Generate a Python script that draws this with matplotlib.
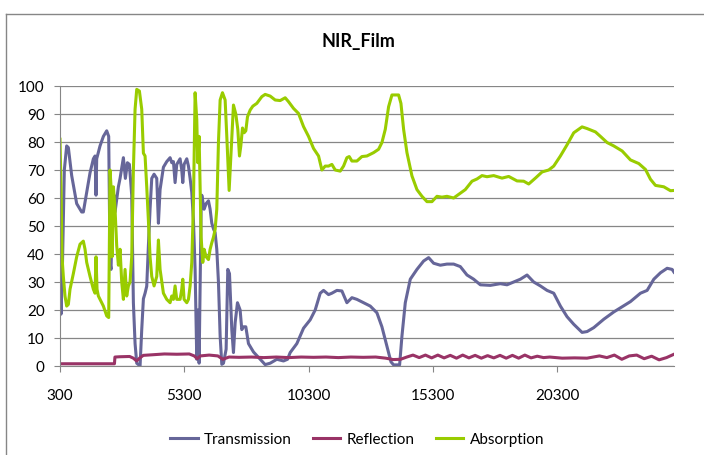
import matplotlib.pyplot as plt
from matplotlib.lines import Line2D

plt.rcParams['font.family'] = ['Lato', 'DejaVu Sans']

# values
trans_x = [300, 340, 394, 474, 568, 636, 770, 971, 1172, 1239,
           1374, 1508, 1642, 1709, 1749, 1776, 1910, 2045, 2179, 2259,
           2313, 2353, 2420, 2474, 2514, 2581, 2649, 2716, 2850, 2930,
           3011, 3091, 3185, 3252, 3320, 3387, 3521, 3588, 3655, 3722,
           3789, 3856, 3923, 3991, 4084, 4192, 4259, 4326, 4460, 4594,
           4729, 4796, 4863, 4930, 4997, 5131, 5198, 5239, 5292, 5400,
           5467, 5534, 5601, 5668, 5735, 5802, 5842, 5896, 5977, 6004,
           6097, 6178, 6272, 6339, 6406, 6473, 6541, 6607, 6674, 6742,
           6809, 6876, 6983, 7050, 7118, 7211, 7278, 7346, 7439, 7546,
           7613, 7681, 7775, 7882, 8084, 8352, 8553, 8755, 9023, 9291,
           9452, 9560, 9828, 10097, 10365, 10566, 10768, 10902, 11103, 11237,
           11439, 11640, 11841, 12043, 12244, 12512, 12781, 13049, 13250, 13452,
           13613, 13720, 13962, 14056, 14190, 14391, 14659, 14928, 15129, 15330,
           15599, 15867, 16136, 16404, 16672, 16941, 17209, 17612, 18014, 18283,
           18551, 18820, 19088, 19356, 19625, 19893, 20162, 20430, 20698, 20967,
           21302, 21504, 21772, 22175, 22577, 22846, 23248, 23651, 23919, 24188,
           24456, 24724, 24925, 25000]
trans_y = [43, 18.5, 34, 70, 78.6, 78, 68, 58, 55, 55,
           62, 69, 74, 75, 61, 74, 78.6, 82, 84, 82,
           37, 34.5, 58, 61, 55, 59.5, 64, 67, 74.4, 67,
           72.6, 72, 61, 22.6, 8, 1, 0, 13, 24, 26,
           28.5, 43, 56, 67, 68.5, 67, 51, 63, 71, 73,
           74.4, 72.6, 73, 65.5, 72, 74, 70, 65.5, 72, 74,
           71.4, 67, 62, 52, 34.5, 2.4, 20, 1, 56, 61,
           56, 58, 59, 56, 51, 49, 47.6, 41.7, 30, 10.7,
           0.6, 1, 6, 34.5, 33, 13, 4.8, 15.5, 22.6, 20,
           13, 14, 14, 8, 5, 2.4, 0.5, 1, 2.4, 1.8,
           2.4, 4.8, 8, 13.5, 16.5, 20, 26, 27, 25.5, 26,
           27, 26.8, 22.6, 24.4, 23.8, 22.6, 21.4, 19, 14, 7,
           1.5, 0.4, 0.4, 10.7, 22.6, 31, 34.5, 37.5, 38.7, 36.7,
           36, 36.4, 36.4, 35.5, 32.5, 31, 29, 28.8, 29.4, 29,
           30, 31, 32.5, 30, 28.6, 27, 26, 21.4, 17.6, 14.9,
           12, 12.3, 13.7, 16.7, 19.3, 20.8, 23, 26, 27, 31,
           33.3, 34.9, 34.5, 33.5]

ref_x = [300, 1000, 2000, 2490, 2510, 2700, 3100, 3250, 3380, 3500,
         3650, 4000, 4500, 5000, 5500, 5700, 5820, 5950, 6300, 6650,
         6850, 7100, 7500, 8000, 8500, 9000, 9500, 10000, 10500, 11000,
         11500, 12000, 12500, 13000, 13400, 13700, 14000, 14250, 14500, 14750,
         15000, 15250, 15500, 15750, 16000, 16250, 16500, 16750, 17000, 17250,
         17500, 17750, 18000, 18250, 18500, 18750, 19000, 19250, 19500, 19750,
         20000, 20500, 21000, 21500, 22000, 22300, 22600, 22900, 23200, 23500,
         23800, 24100, 24400, 24700, 25000]
ref_y = [0.8, 0.8, 0.8, 0.8, 3.2, 3.3, 3.4, 2.8, 1.8, 2.8,
         3.8, 4.0, 4.3, 4.2, 4.3, 3.6, 2.6, 3.6, 3.9, 3.6,
         2.4, 3.2, 3.1, 3.2, 3.0, 3.2, 3.0, 3.2, 3.1, 3.2,
         3.0, 3.2, 3.1, 3.2, 2.8, 2.3, 2.4, 3.2, 3.9, 3.0,
         3.9, 2.9, 3.9, 2.9, 3.8, 2.8, 3.9, 2.9, 3.8, 2.8,
         3.7, 2.9, 3.8, 2.8, 3.8, 2.8, 3.9, 2.9, 3.5, 3.0,
         3.2, 2.8, 2.9, 2.8, 3.6, 3.0, 3.9, 2.4, 3.6, 3.9,
         2.6, 3.5, 2.2, 3.0, 4.2]

abs_x = [300, 340, 381, 434, 501, 568, 636, 703, 837, 971,
         1105, 1239, 1307, 1374, 1508, 1642, 1709, 1749, 1790, 1843,
         1910, 2045, 2179, 2259, 2313, 2353, 2394, 2447, 2514, 2581,
         2649, 2716, 2783, 2850, 2917, 2984, 3051, 3118, 3185, 3252,
         3320, 3387, 3494, 3588, 3655, 3722, 3789, 3856, 3923, 3991,
         4084, 4192, 4259, 4326, 4460, 4594, 4729, 4796, 4863, 4930,
         4997, 5131, 5198, 5239, 5292, 5400, 5467, 5534, 5601, 5668,
         5735, 5802, 5842, 5896, 5977, 6044, 6097, 6178, 6272, 6339,
         6406, 6473, 6541, 6607, 6674, 6742, 6836, 6943, 7010, 7104,
         7211, 7278, 7372, 7453, 7520, 7574, 7641, 7708, 7775, 7842,
         7949, 8057, 8218, 8419, 8553, 8755, 8956, 9157, 9359, 9493,
         9694, 9895, 10097, 10298, 10499, 10701, 10835, 10969, 11103, 11237,
         11372, 11573, 11707, 11841, 11935, 12043, 12244, 12445, 12646, 12915,
         13116, 13250, 13385, 13519, 13653, 13921, 14015, 14123, 14257, 14458,
         14659, 14861, 15062, 15263, 15465, 15666, 15867, 16136, 16404, 16605,
         16874, 17075, 17276, 17477, 17746, 18082, 18350, 18686, 18954, 19155,
         19424, 19692, 19960, 20162, 20430, 20698, 20967, 21302, 21504, 21840,
         22041, 22309, 22577, 22913, 23248, 23584, 23852, 24053, 24255, 24590,
         24859, 25000]
abs_y = [81, 64, 39, 32, 25, 21.4, 22, 27.4, 33, 39,
         43.5, 44.6, 41.7, 37, 32, 27.4, 26, 39, 27.4, 25,
         23.8, 21.4, 17.9, 17.3, 70, 64, 39, 64, 56, 43,
         36, 41.7, 30, 23.8, 34.5, 25, 28.6, 30, 39, 70,
         91.7, 98.8, 98.2, 91.7, 76, 75, 64, 52, 39, 32,
         28.6, 32, 45, 34.5, 26, 23.8, 22.6, 25, 23.8, 28.6,
         23.8, 23.8, 27.4, 31, 23.8, 22.6, 23.8, 28.6, 37, 58,
         97.6, 88, 72.6, 82, 46, 37, 41.7, 39, 38, 41.7,
         44, 46, 48.8, 56, 79.8, 95, 97.6, 95, 82, 62.7,
         81.4, 93.2, 90, 84.5, 75, 78.6, 85, 83.3, 84, 89,
         91.4, 92.8, 93.8, 96.2, 97, 96.4, 95, 94.8, 95.8, 94.4,
         92, 90.2, 85.5, 82, 77.7, 75, 70, 71.4, 71.4, 72,
         70, 69.6, 71.4, 74.4, 74.8, 73.2, 73.2, 74.8, 75, 76.2,
         77.4, 79.8, 84.5, 92.6, 96.8, 96.8, 93.8, 84.5, 76.2, 67.9,
         63, 60.6, 58.7, 58.7, 60.6, 60.3, 60.6, 60, 61.7, 63,
         66, 66.8, 68, 67.6, 68, 67.1, 67.7, 66.1, 66, 65,
         67.1, 69.3, 70, 71.4, 75, 79, 83.3, 85.4, 84.8, 83.6,
         82, 79.8, 78.6, 76.8, 73.6, 72.3, 70.2, 66.7, 64.5, 64,
         62.6, 62.7]

x_ticks = [300, 5300, 10300, 15300, 20300]
y_ticks = [0, 10, 20, 30, 40, 50, 60, 70, 80, 90, 100]

fig = plt.figure(figsize=(7.04, 4.56), dpi=100)
ax = fig.add_axes([60/704, 1 - 367/456, 614/704, 280/456])

ax.plot(trans_x, trans_y, color='#666699', lw=2.2, label='Transmission')
ax.plot(ref_x, ref_y, color='#993366', lw=2.2, label='Reflection')
ax.plot(abs_x, abs_y, color='#99CC00', lw=2.2, label='Absorption')

ax.set_xlim(300, 25000)
ax.set_ylim(0, 100)
ax.set_xticks(x_ticks)
ax.set_yticks(y_ticks)
ax.grid(axis='y', color='#868686', lw=0.9)
ax.set_axisbelow(True)
for s in ['top', 'right']:
    ax.spines[s].set_visible(False)
for s in ['left', 'bottom']:
    ax.spines[s].set_color('#868686')
ax.tick_params(direction='out', length=4, color='#868686', labelsize=11)
ax.tick_params(axis='x', pad=12)
ax.tick_params(axis='y', pad=7)

fig.text(358/704, 1 - 42/456, 'NIR_Film', ha='center', va='center',
         fontweight='bold', fontsize=13)
fig.legend(loc='center', bbox_to_anchor=(357/704, 1 - 440/456), ncol=3,
           frameon=False, handlelength=1.8, handletextpad=0.4,
           columnspacing=1.4, fontsize=11)

# chart area border (left and top edge visible in the crop)
fig.add_artist(Line2D([6/704, 6/704], [0, 1 - 15/456], transform=fig.transFigure,
                      color='#868686', lw=1))
fig.add_artist(Line2D([6/704, 1], [1 - 15/456, 1 - 15/456], transform=fig.transFigure,
                      color='#868686', lw=1))

fig.savefig('out.png', dpi=100)
